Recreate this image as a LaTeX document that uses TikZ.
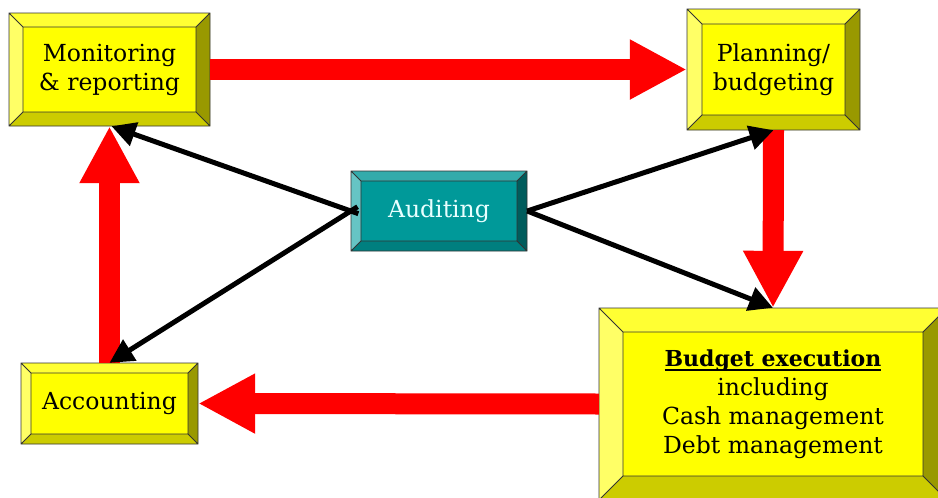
\documentclass[tikz,border=0pt]{standalone}
\usepackage{fontspec}
\setmainfont{DejaVu Serif}
\usetikzlibrary{arrows.meta}

% heavier underline than \underline gives
\newlength\ulwidth
\newcommand\thickul[1]{\settowidth\ulwidth{#1}\rlap{\rule[-5pt]{\ulwidth}{2.2pt}}#1}

% yellow bevelled box
\definecolor{yface}{HTML}{FFFF00}
\definecolor{ytop}{HTML}{FFFF33}
\definecolor{yleft}{HTML}{FFFF66}
\definecolor{ybottom}{HTML}{CCCC00}
\definecolor{yright}{HTML}{999900}
% teal bevelled box
\definecolor{tface}{HTML}{009999}
\definecolor{ttop}{HTML}{33ABAB}
\definecolor{tleft}{HTML}{66C4C4}
\definecolor{tbottom}{HTML}{007F7F}
\definecolor{tright}{HTML}{005C5C}
\definecolor{audtext}{HTML}{E8FFFF}

\tikzset{
  edge/.style={draw=black!80, line width=0.9pt, line join=miter},
  boxtext/.style={align=center, inner sep=0pt, font=\fontsize{23.5}{29}\selectfont},
  flow/.style={draw=red, line width=21pt, -{Triangle[length=57pt,width=56pt]}},
  link/.style={draw=black, line width=5pt, -{Triangle[length=24pt,width=24pt]}},
}

% #1 name, #2 #3 top-left, #4 #5 bottom-right, #6 bevel, #7 palette, #8 text
\newcommand\bevelbox[8]{%
  \path (#2,#3) coordinate (#1-o1) (#4,#3) coordinate (#1-o2)
        (#4,#5) coordinate (#1-o3) (#2,#5) coordinate (#1-o4)
        (#2+#6,#3+#6) coordinate (#1-i1) (#4-#6,#3+#6) coordinate (#1-i2)
        (#4-#6,#5-#6) coordinate (#1-i3) (#2+#6,#5-#6) coordinate (#1-i4);
  \fill[#7top] (#1-o1) -- (#1-o2) -- (#1-i2) -- (#1-i1) -- cycle;
  \fill[#7right] (#1-o2) -- (#1-o3) -- (#1-i3) -- (#1-i2) -- cycle;
  \fill[#7bottom] (#1-o3) -- (#1-o4) -- (#1-i4) -- (#1-i3) -- cycle;
  \fill[#7left] (#1-o4) -- (#1-o1) -- (#1-i1) -- (#1-i4) -- cycle;
  \fill[#7face] (#1-i1) rectangle (#1-i3);
  \draw[edge] (#1-o1) rectangle (#1-o3) (#1-i1) rectangle (#1-i3)
        (#1-o1) -- (#1-i1) (#1-o2) -- (#1-i2) (#1-o3) -- (#1-i3) (#1-o4) -- (#1-i4);
  \node[boxtext, minimum width={(#4-#2)*1pt}, minimum height={(#5-#3)*1pt}]
        (#1) at ({(#2+#4)/2},{(#3+#5)/2}) {#8};
}

\begin{document}
\begin{tikzpicture}[x=1pt, y=-1pt]
  \useasboundingbox (0,0) rectangle (938,498);
  \clip (0,0) rectangle (938,498);
  \fill[white] (0,0) rectangle (938,498);

  \bevelbox{mon}{9}{13}{210}{126}{14}{y}{Monitoring\\\& reporting}
  \bevelbox{plan}{687}{9}{860}{130}{15}{y}{Planning/\\budgeting}
  \bevelbox{aud}{351}{171}{527}{251}{10}{t}{\color{audtext}Auditing}
  \bevelbox{exec}{599}{308}{947}{500}{24}{y}{{\fontsize{22}{29}\selectfont\thickul{\textbf{Budget execution}}}\\including\\Cash management\\Debt management}
  \bevelbox{acc}{21}{363}{198}{444}{10}{y}{Accounting}

  % budget cycle
  \draw[flow] (mon.east) -- (plan.west);
  \draw[flow] (plan.south) -- (exec.north);
  \draw[flow] (exec.west) -- (acc.east);
  \draw[flow] (acc.north) -- (mon.south);

  % audit links
  \draw[link, shorten <=-8pt] (aud.west) -- ([xshift=2pt]mon.south);
  \draw[link, shorten <=-8pt] (aud.west) -- (acc.north);
  \draw[link] (aud.east) -- (plan.south);
  \draw[link] (aud.east) -- (exec.north);
\end{tikzpicture}
\end{document}
